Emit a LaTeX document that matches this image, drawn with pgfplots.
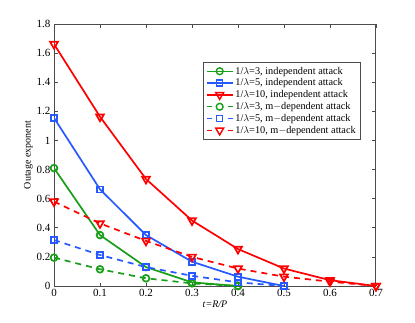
\documentclass[border=0pt]{standalone}
\usepackage{fontspec}
\setmainfont{Liberation Serif}
\usepackage{pgfplots}
\pgfplotsset{compat=1.18}
\definecolor{mgreen}{rgb}{0.1,0.62,0.1}
\definecolor{mblue}{rgb}{0.15,0.35,1}
\definecolor{mred}{rgb}{1,0,0}
\tikzset{lw/.style={line width=1.7pt}, dsh/.style={dash pattern=on 6pt off 5pt}}
\pgfplotsset{dleg/.style={legend image post style={dash pattern=on 5pt off 16pt}}}
\begin{document}
\begin{tikzpicture}[x=1pt,y=1pt]
\path[use as bounding box] (0,0) rectangle (415,322);
\begin{axis}[
  at={(54pt,36pt)}, anchor=south west,
  scale only axis, width=322pt, height=262pt,
  xmin=0, xmax=0.7, ymin=0, ymax=1.8,
  xtick={0,0.1,...,0.7}, ytick={0,0.2,...,1.8},
  tick align=inside, major tick length=3.5pt,
  axis line style={gray!60!black, line width=1pt},
  every tick/.style={gray!60!black, line width=0.7pt},
  /pgf/number format/assume math mode=true,
  /pgf/number format/fixed,
  ticklabel style={font=\fontsize{11}{12}\selectfont},
  xlabel={\textit{t=R/P}}, ylabel={Outage exponent},
  label style={font=\fontsize{10}{11}\selectfont},
  xlabel style={yshift=3pt},
  ylabel style={yshift=-3pt},
  legend cell align=left,
  legend style={at={(0.463,0.855)}, anchor=north west, font=\fontsize{10.3}{10.5}\selectfont,
    draw=gray!60!black, line width=0.8pt, row sep=-0.8pt, inner sep=2.5pt},
  legend image code/.code={\draw[#1,line width=1.4pt] (0pt,0pt) -- (26pt,0pt); \draw[#1,solid,line width=1.4pt] plot coordinates {(13pt,0pt)};},
]
\addplot[mgreen, lw, mark=o, mark size=3.4pt] coordinates {(0,0.81) (0.1,0.35) (0.2,0.13) (0.3,0.025) (0.4,0.0)};
\addlegendentry{1/$\lambda$=3, independent attack}
\addplot[mblue, lw, mark=square, mark size=3pt] coordinates {(0,1.155) (0.1,0.664) (0.2,0.35) (0.3,0.167) (0.4,0.064) (0.5,0.0)};
\addlegendentry{1/$\lambda$=5, independent attack}
\addplot[mred, lw, mark=triangle, mark options={rotate=180, solid}, mark size=4.5pt] coordinates {(0,1.662) (0.1,1.163) (0.2,0.735) (0.3,0.45) (0.4,0.254) (0.5,0.12) (0.6,0.04) (0.7,0.0)};
\addlegendentry{1/$\lambda$=10, independent attack}
\addplot[mgreen, lw, dsh, dleg, mark=o, mark size=3.4pt, mark options={solid}] coordinates {(0,0.195) (0.1,0.115) (0.2,0.053) (0.3,0.018) (0.4,0.0)};
\addlegendentry{1/$\lambda$=3, m$-$dependent attack}
\addplot[mblue, lw, dsh, dleg, mark=square, mark size=3pt, mark options={solid}] coordinates {(0,0.316) (0.1,0.213) (0.2,0.13) (0.3,0.07) (0.4,0.025) (0.5,0.0)};
\addlegendentry{1/$\lambda$=5, m$-$dependent attack}
\addplot[mred, lw, dsh, dleg, mark=triangle, mark options={rotate=180, solid}, mark size=4.5pt] coordinates {(0,0.58) (0.1,0.43) (0.2,0.31) (0.3,0.20) (0.4,0.12) (0.5,0.064) (0.6,0.03) (0.7,0.0)};
\addlegendentry{1/$\lambda$=10, m$-$dependent attack}
\end{axis}
\end{tikzpicture}
\end{document}
